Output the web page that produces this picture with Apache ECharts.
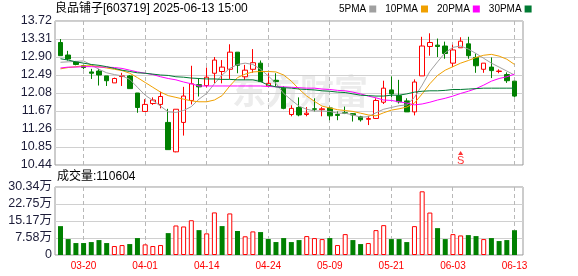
<!DOCTYPE html>
<html><head><meta charset="utf-8">
<script src="https://cdn.jsdelivr.net/npm/echarts@6/dist/echarts.min.js"></script>
<style>html,body{margin:0;padding:0;background:#fff}#c{width:578px;height:276px}</style>
</head><body><div id="c"></div>
<script>
const dates = ['03-17','03-18','03-19','03-20','03-21','03-24','03-25','03-26','03-27','03-28',
  '03-31','04-01','04-02','04-03','04-07','04-08','04-09','04-10','04-11','04-14',
  '04-15','04-16','04-17','04-18','04-21','04-22','04-23','04-24','04-25','04-28',
  '04-29','04-30','05-06','05-07','05-08','05-09','05-12','05-13','05-14','05-15',
  '05-16','05-19','05-20','05-21','05-22','05-23','05-26','05-27','05-28','05-29',
  '05-30','06-03','06-04','06-05','06-06','06-09','06-10','06-11','06-12','06-13'];
const opens = [13.23,12.945,12.79,12.70,12.56,12.58,12.47,12.31,12.455,12.47,
  12.08,11.66,11.84,11.82,11.41,10.74,11.41,11.91,12.27,12.25,
  12.53,12.57,12.62,13.01,12.45,12.62,12.76,12.24,12.37,12.19,
  11.59,11.75,11.59,11.72,11.70,11.74,11.59,11.63,11.61,11.54,
  11.48,11.50,11.87,12.15,12.02,11.90,11.65,12.47,13.14,13.17,
  13.15,12.76,13.11,13.20,12.89,12.62,12.67,12.57,12.50,12.35];
const closes = [12.93,12.855,12.73,12.66,12.53,12.49,12.36,12.41,12.47,12.18,
  11.75,11.82,11.92,12.00,10.79,11.71,12.01,12.29,12.22,12.44,
  12.83,12.67,13.01,12.71,12.60,12.77,12.34,12.30,12.34,11.73,
  11.73,11.58,11.62,11.71,11.72,11.56,11.57,11.62,11.58,11.47,
  11.50,11.91,12.19,12.06,11.88,11.65,12.33,13.15,13.23,13.14,
  12.98,13.06,13.26,12.93,12.70,12.76,12.59,12.58,12.36,12.01];
const lows = [12.93,12.82,12.71,12.62,12.40,12.25,12.24,12.31,12.24,12.18,
  11.63,11.66,11.81,11.73,10.79,10.73,11.11,11.82,12.00,12.21,
  12.30,12.30,12.40,12.53,12.38,12.54,12.34,12.24,12.23,11.71,
  11.55,11.55,11.55,11.66,11.55,11.46,11.46,11.60,11.43,11.43,
  11.35,11.49,11.83,11.98,11.84,11.65,11.57,12.47,12.93,12.90,
  12.86,12.67,13.11,12.86,12.54,12.54,12.42,12.53,12.31,11.98];
const highs = [13.31,13.04,12.81,12.72,12.63,12.63,12.47,12.43,12.54,12.49,
  12.08,11.94,11.98,12.11,11.72,11.71,12.22,12.70,12.40,12.66,
  12.90,12.83,13.19,13.01,12.72,13.08,12.82,12.53,12.53,12.23,
  11.80,11.98,11.76,11.96,11.76,11.77,11.66,11.77,11.62,11.56,
  11.56,11.96,12.36,12.46,12.38,11.96,12.39,13.36,13.44,13.32,
  13.25,13.18,13.35,13.36,12.98,12.76,12.89,12.62,12.55,12.35];
const ma5 = [12.78,12.79,12.80,12.81,12.72,12.62,12.54,12.50,12.47,12.39,
  12.21,12.03,11.91,11.78,11.65,11.64,11.68,11.77,11.94,12.07,
  12.29,12.49,12.64,12.73,12.76,12.73,12.62,12.47,12.30,12.07,
  11.92,11.78,11.71,11.67,11.67,11.66,11.62,11.62,11.58,11.53,
  11.54,11.63,11.71,11.75,11.79,11.81,11.98,12.26,12.57,12.79,
  13.00,13.12,13.15,13.08,12.98,12.87,12.76,12.67,12.58,12.49];
const ma10 = [12.63,12.66,12.68,12.70,12.70,12.68,12.65,12.62,12.59,12.53,
  12.43,12.32,12.21,12.10,12.02,11.98,11.94,11.90,11.88,11.88,
  11.92,12.02,12.24,12.43,12.51,12.56,12.57,12.57,12.56,12.49,
  12.35,12.17,12.01,11.89,11.78,11.74,11.70,11.68,11.66,11.62,
  11.58,11.56,11.63,11.69,11.72,11.76,11.85,12.06,12.29,12.48,
  12.60,12.68,12.76,12.82,12.89,12.94,12.96,12.92,12.85,12.73];
const ma20 = [12.65,12.67,12.67,12.68,12.68,12.67,12.67,12.66,12.64,12.60,
  12.56,12.53,12.50,12.45,12.41,12.38,12.33,12.29,12.24,12.24,
  12.24,12.24,12.24,12.24,12.24,12.24,12.24,12.23,12.22,12.22,
  12.21,12.20,12.19,12.19,12.17,12.16,12.14,12.13,12.10,12.06,
  12.01,11.97,11.92,11.91,11.88,11.85,11.81,11.83,11.87,11.92,
  11.96,12.01,12.07,12.12,12.18,12.26,12.35,12.41,12.45,12.51];
const ma30 = [12.86,12.83,12.79,12.76,12.73,12.71,12.68,12.64,12.60,12.57,
  12.54,12.53,12.51,12.49,12.48,12.45,12.44,12.42,12.41,12.40,
  12.40,12.39,12.39,12.38,12.38,12.38,12.34,12.26,12.22,12.20,
  12.19,12.17,12.16,12.15,12.13,12.12,12.10,12.09,12.06,12.03,
  12.02,12.01,12.01,12.03,12.03,12.06,12.10,12.12,12.13,12.13,
  12.14,12.16,12.16,12.17,12.18,12.19,12.19,12.19,12.19,12.19];
const volumes = [128800,71000,53300,53300,57700,66600,53300,40000,44400,48800,
  75500,47400,40000,44400,97700,131700,127300,155000,111000,96500,
  190000,129000,185500,107000,83500,105300,102300,71200,57800,75500,
  57700,66600,84400,75500,71000,75500,44400,93200,66600,48800,
  53300,111000,133200,71000,71000,57700,128800,284200,189400,119900,
  71000,93200,87300,88800,84400,71000,75500,62200,66600,110604];
const volumeUp = [0,0,0,0,0,0,0,1,1,0, 0,1,1,1,0,1,1,1,0,1,
  1,0,1,0,1,1,0,0,0,0, 0,0,1,1,1,0,1,1,0,0,
  1,1,1,0,0,0,1,1,1,0, 0,1,1,0,0,1,0,0,0,0];
const priceTicks = ['10.44','10.85','11.26','11.67','12.08','12.49','12.90','13.31','13.72'];
const volumeTicks = ['0','7.58万','15.17万','22.75万','30.34万'];
const volumeMax = 303400;
const signals = [{date: '06-04', text: 'S'}];
const titleText = '良品铺子[603719] 2025-06-13 15:00';
const volumeText = '成交量:110604';

const RED = '#ff0000', GREEN = '#008000';
const MA_COLORS = ['#a0a0a0', '#f0a000', '#ff00ff', '#007a33'];
const FONT = 'Liberation Sans, Noto Sans CJK SC, sans-serif';

const pMin = parseFloat(priceTicks[0]);
const pMax = parseFloat(priceTicks[priceTicks.length - 1]);
const pInt = (pMax - pMin) / (priceTicks.length - 1);
const vInt = volumeMax / (volumeTicks.length - 1);
const labelEvery = (i) => i % 8 === 3;
const labelDates = dates.filter((d, i) => labelEvery(i));

const chart = echarts.init(document.getElementById('c'), null, {renderer: 'canvas'});

const candleData = dates.map((d, i) => [opens[i], closes[i], lows[i], highs[i]]);
const volData = volumes.map((v, i) => ({
  value: v,
  itemStyle: volumeUp[i]
    ? {color: '#ffffff', borderColor: RED, borderWidth: 1}
    : {color: GREEN, borderColor: GREEN, borderWidth: 0}
}));

const frameX = {type: 'category', data: dates, show: false};
const hiddenY = (min, max, gi) => ({type: 'value', gridIndex: gi, min, max, show: false});

// dashed vertical guide at each labelled date, positioned through the axis scale
function guideSeries(xi, yi, yLo, yHi) {
  return {
    type: 'custom', xAxisIndex: xi, yAxisIndex: yi, silent: true, z: 1,
    clip: false,
    encode: {x: 0, y: 1},
    data: labelDates.map(d => [d, yLo]),
    renderItem: (params, api) => {
      const lo = api.coord([api.value(0), yLo]);
      const hi = api.coord([api.value(0), yHi]);
      const x = Math.round(lo[0] - 0.5) + 0.5;
      return {
        type: 'line',
        shape: {x1: x, y1: hi[1], x2: x, y2: lo[1]},
        style: {stroke: '#b8b8b8', lineWidth: 1, lineDash: [4, 3]}
      };
    }
  };
}

chart.setOption({
  animation: false,
  backgroundColor: '#ffffff',
  title: [
    {text: titleText, left: 55, top: 3, padding: 0,
      textStyle: {fontSize: 12, fontWeight: 'normal', color: '#000', fontFamily: FONT}},
    {text: volumeText, left: 57, top: 171, padding: 0,
      textStyle: {fontSize: 12, fontWeight: 'normal', color: '#000', fontFamily: FONT}}
  ],
  legend: {
    left: 339, top: 4, padding: 0, itemGap: 9, itemWidth: 7, itemHeight: 7,
    align: 'right', icon: 'rect',
    textStyle: {fontSize: 10, color: '#000', fontFamily: FONT, padding: [0, -2, 0, 0]},
    data: ['5PMA', '10PMA', '20PMA', '30PMA']
  },
  graphic: [{
    type: 'text', left: 232, top: 74, z: 0, silent: true,
    style: {text: '东方财富', fill: '#ececec', fontSize: 34, fontWeight: 'bold',
      fontFamily: 'Noto Sans CJK SC'}
  }],
  grid: [
    {left: 55, top: 21, width: 468, height: 144, show: true, borderColor: '#999', borderWidth: 1, backgroundColor: 'transparent'},
    {left: 56.65, top: 21, width: 461.7, height: 144},
    {left: 55, top: 187, width: 468, height: 68, show: true, borderColor: '#999', borderWidth: 1, backgroundColor: 'transparent'},
    {left: 56.65, top: 187, width: 461.7, height: 68}
  ],
  xAxis: [
    Object.assign({gridIndex: 0}, frameX),
    {type: 'category', gridIndex: 1, data: dates, boundaryGap: true,
      axisLine: {show: false}, axisTick: {show: false}, axisLabel: {show: false},
      splitLine: {show: false}},
    Object.assign({gridIndex: 2}, frameX),
    {type: 'category', gridIndex: 3, data: dates, boundaryGap: true,
      axisLine: {show: false}, axisTick: {show: false},
      axisLabel: {show: true, interval: labelEvery, color: RED, fontSize: 10, fontFamily: FONT, margin: 6},
      splitLine: {show: false}}
  ],
  yAxis: [
    {type: 'value', gridIndex: 0, min: pMin, max: pMax, interval: pInt,
      axisLine: {show: false}, axisTick: {show: false},
      axisLabel: {color: '#1c1c38', fontSize: 12.5, fontFamily: FONT, margin: 3,
        formatter: (v, idx) => priceTicks[idx] !== undefined ? priceTicks[idx] : v.toFixed(2)},
      splitLine: {show: true, lineStyle: {color: '#d0d0d0', width: 1}}},
    hiddenY(pMin, pMax, 1),
    {type: 'value', gridIndex: 2, min: 0, max: volumeMax, interval: vInt,
      axisLine: {show: false}, axisTick: {show: false},
      axisLabel: {color: '#1c1c38', fontSize: 12.5, fontFamily: FONT, margin: 3,
        formatter: (v, idx) => volumeTicks[idx] !== undefined ? volumeTicks[idx] : ''},
      splitLine: {show: true, lineStyle: {color: '#d0d0d0', width: 1}}},
    hiddenY(0, volumeMax, 3)
  ],
  series: [
    guideSeries(1, 1, pMin, pMax),
    guideSeries(3, 3, 0, volumeMax),
    {type: 'candlestick', xAxisIndex: 1, yAxisIndex: 1, data: candleData, barWidth: 5, z: 3,
      itemStyle: {color: '#ffffff', color0: GREEN, borderColor: RED, borderColor0: GREEN, borderWidth: 1}},
    {name: '5PMA', type: 'line', xAxisIndex: 1, yAxisIndex: 1, data: ma5, symbol: 'none', z: 4,
      lineStyle: {width: 1, color: MA_COLORS[0]}, itemStyle: {color: MA_COLORS[0]}},
    {name: '10PMA', type: 'line', xAxisIndex: 1, yAxisIndex: 1, data: ma10, symbol: 'none', z: 4,
      lineStyle: {width: 1, color: MA_COLORS[1]}, itemStyle: {color: MA_COLORS[1]}},
    {name: '20PMA', type: 'line', xAxisIndex: 1, yAxisIndex: 1, data: ma20, symbol: 'none', z: 4,
      lineStyle: {width: 1, color: MA_COLORS[2]}, itemStyle: {color: MA_COLORS[2]}},
    {name: '30PMA', type: 'line', xAxisIndex: 1, yAxisIndex: 1, data: ma30, symbol: 'none', z: 4,
      lineStyle: {width: 1, color: MA_COLORS[3]}, itemStyle: {color: MA_COLORS[3]}},
    {type: 'scatter', xAxisIndex: 1, yAxisIndex: 1, symbol: 'triangle', symbolSize: [5, 4],
      symbolOffset: [0, -12], itemStyle: {color: RED}, silent: true, z: 5,
      data: signals.map(s => ({value: [s.date, pMin], name: s.text})),
      label: {show: true, position: 'bottom', distance: 0, formatter: (p) => p.name,
        color: RED, fontSize: 11, fontFamily: FONT}},
    {type: 'bar', xAxisIndex: 3, yAxisIndex: 3, data: volData, barWidth: 5, z: 3}
  ]
});
</script></body></html>
